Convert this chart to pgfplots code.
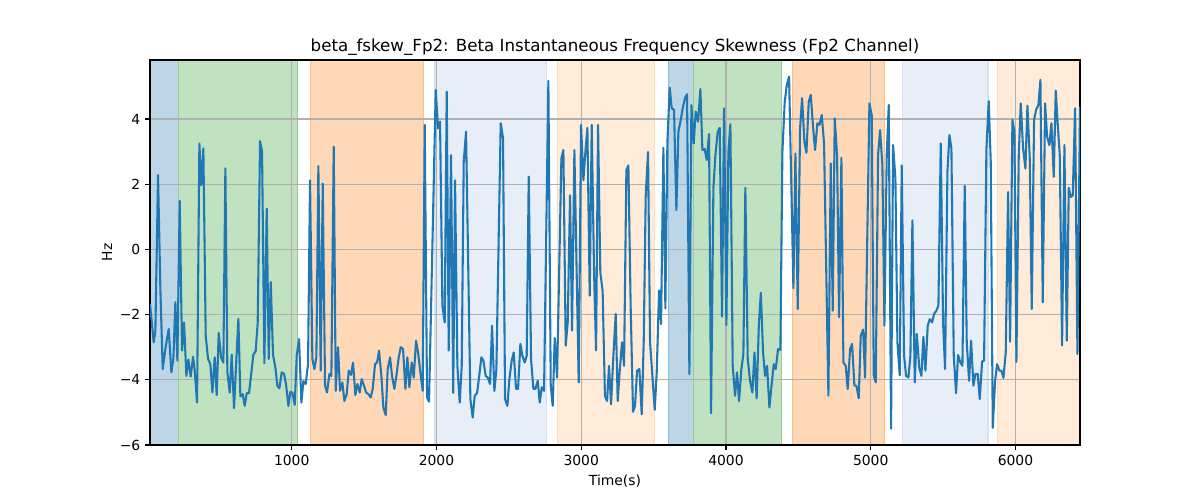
\documentclass[border=0pt]{standalone}
\usepackage{fontspec}
\setmainfont{DejaVu Sans}
\usepackage{pgfplots}
\usepackage{pgfplotstable}
\pgfplotsset{compat=1.18}
\definecolor{tabblue}{HTML}{1F77B4}
\definecolor{tabgreen}{HTML}{2CA02C}
\definecolor{taborange}{HTML}{FF7F0E}
\definecolor{tablblue}{HTML}{AEC7E8}
\definecolor{tablorange}{HTML}{FFBB78}
\definecolor{gridgray}{HTML}{B0B0B0}

\pgfplotstableread{
x y
21 -1.67
46.6 -2.85
58.1 -2.50
76.5 2.28
92.6 -1.21
108.8 -3.67
127.2 -3.05
150.2 -2.44
168.6 -3.77
182.5 -3.36
196.3 -1.62
210.1 -3.41
226.2 1.49
242.3 -3.10
256.2 -2.24
272.3 -3.88
286.1 -3.38
302.2 -3.90
318.3 -3.29
329.9 -3.72
346.0 -4.70
362.1 3.25
375.9 1.97
389.7 3.10
405.9 -2.65
422.0 -3.36
438.1 -3.52
451.9 -4.39
468.0 -3.31
481.8 -4.47
495.7 -2.56
511.8 -3.31
527.9 -3.47
541.7 2.49
555.5 -3.77
571.7 -4.39
585.5 -3.23
601.6 -4.87
615.4 -3.57
631.5 -2.13
645.4 -4.51
661.5 -4.44
675.3 -4.80
689.1 -4.41
705.2 -4.41
721.4 -3.77
735.2 -3.23
751.3 -3.11
765.1 -2.24
781.2 3.32
795.1 3.00
811.2 -3.49
827.3 1.25
841.1 -3.36
855.0 -1.00
871.1 -3.24
887.2 -3.62
901.0 -4.19
914.8 -4.26
931.0 -3.77
947.1 -3.82
960.9 -4.14
977.0 -4.80
990.8 -4.37
1004.7 -4.39
1020.8 -4.77
1034.6 -3.26
1050.7 -2.75
1066.8 -4.70
1080.6 -4.04
1096.7 -4.13
1112.8 -3.52
1126.6 2.12
1142.8 -3.36
1156.6 -3.67
1170.4 -3.31
1184.2 2.56
1200.3 -3.72
1214.2 2.02
1230.3 -4.18
1244.1 -4.39
1260.2 -3.82
1274.0 -3.88
1290.2 3.15
1304.0 -4.34
1320.1 -3.00
1333.9 -4.34
1350.0 -4.08
1363.9 -4.65
1380.0 -4.44
1393.8 -3.72
1409.9 -3.85
1423.7 -3.47
1439.8 -4.47
1453.7 -4.13
1469.8 -4.39
1483.6 -3.98
1499.7 -4.18
1513.5 -4.39
1529.7 -4.44
1545.8 -4.54
1559.6 -4.28
1575.7 -3.52
1589.5 -3.47
1603.4 -3.11
1619.5 -3.88
1633.3 -4.85
1649.4 -5.08
1663.2 -3.67
1679.4 -3.31
1693.2 -3.88
1709.3 -4.28
1723.1 -3.88
1739.2 -3.31
1753.1 -3.00
1769.2 -3.05
1785.3 -4.28
1799.1 -3.31
1813.0 -4.23
1829.1 -3.47
1842.9 -3.93
1859.0 -2.80
1872.8 -3.16
1889.0 -3.77
1905.1 -4.34
1918.9 3.82
1935.0 -4.54
1948.8 -4.67
1965.0 -1.32
1978.8 1.55
1994.9 4.89
2011.0 3.71
2024.8 3.92
2041.0 -1.72
2057.1 -2.24
2070.9 4.84
2084.7 -3.10
2100.8 2.89
2116.0 -4.40
2128.4 2.12
2144.5 -3.57
2160.6 -4.70
2174.5 -3.57
2188.3 2.69
2204.4 3.61
2218.2 -0.17
2234.3 -4.59
2250.5 -5.16
2264.3 -4.49
2280.4 -4.41
2294.2 -3.93
2310.3 -3.31
2324.1 -3.41
2340.3 -3.88
2354.1 -3.93
2370.2 -4.13
2384.0 -2.34
2400.2 -4.34
2414.0 -3.67
2430.1 0.39
2443.9 3.87
2460.0 3.41
2473.8 -4.59
2490.0 -4.80
2503.8 -3.98
2519.9 -3.41
2533.7 -3.16
2549.8 -4.28
2563.7 -4.28
2579.8 -2.90
2593.6 -3.26
2609.7 -3.47
2623.5 -3.26
2637.4 2.23
2653.5 -3.36
2669.6 -4.28
2683.4 -4.28
2699.6 -4.03
2713.4 -4.70
2727.2 -4.23
2743.3 -4.34
2757.1 0.05
2773.2 5.17
2789.4 -4.18
2803.2 -4.80
2817.0 -2.72
2833.1 -3.93
2847.0 -0.83
2863.1 2.79
2876.9 3.05
2893.0 -2.95
2906.8 -2.24
2923.0 1.66
2936.8 -2.49
2952.9 3.05
2969.0 -0.79
2982.8 -4.08
2998.9 3.82
3015.1 2.12
3028.9 3.00
3042.7 3.73
3058.8 -1.42
3072.6 3.82
3088.8 -0.70
3102.6 -3.10
3116.4 3.82
3132.0 -0.70
3148.0 -1.28
3164.0 -4.49
3178.5 -4.65
3192.3 -3.57
3206.1 -4.75
3222.3 -3.26
3238.4 -1.98
3252.2 -4.65
3266.0 -3.72
3282.1 -2.85
3296.0 -3.57
3312.1 2.43
3325.9 2.58
3342.0 -1.83
3358.1 -4.98
3372.0 -4.80
3385.8 -3.72
3401.9 -3.67
3418.0 -5.06
3431.8 -2.85
3445.7 1.66
3461.8 2.99
3475.6 -2.85
3491.7 -3.88
3507.8 -4.92
3521.7 -3.77
3537.8 -1.26
3551.6 -2.29
3567.7 3.12
3581.5 -1.81
3595.4 3.30
3611.5 4.96
3625.3 4.33
3641.4 4.28
3657.5 1.20
3671.4 3.61
3687.5 3.97
3701.3 4.33
3717.4 4.64
3731.2 4.76
3747.4 -3.83
3761.2 4.43
3777.3 3.25
3791.1 4.23
3807.2 3.92
3823.4 4.92
3837.2 3.05
3853.3 3.08
3867.1 2.74
3883.2 3.54
3897.1 -5.03
3913.2 1.87
3927.0 2.89
3943.1 3.61
3956.9 3.73
3973.0 -2.06
3986.9 4.33
4003.0 -2.32
4016.8 2.99
4030.6 3.84
4046.7 -3.57
4062.9 -4.49
4076.7 -3.77
4090.5 -4.65
4106.6 -3.67
4120.4 -3.21
4134.0 1.89
4150.4 -3.36
4166.5 -4.03
4182.6 -4.39
4197.0 -3.16
4212.0 -4.57
4227.0 -2.34
4241.0 -1.33
4256.4 -3.16
4270.2 -3.88
4284.0 -3.57
4300.1 -4.85
4313.9 -4.23
4330.1 -3.52
4343.9 -3.67
4360.0 -3.06
4376.1 -3.08
4389.9 2.99
4406.1 4.53
4419.9 5.03
4436.0 5.30
4452.1 1.87
4465.9 -1.19
4479.8 2.94
4495.9 -1.83
4512.0 3.71
4525.8 4.64
4542.0 3.30
4555.8 2.96
4571.9 4.53
4585.7 4.74
4601.8 3.76
4615.6 3.05
4631.8 3.87
4645.6 3.82
4661.7 4.12
4677.8 3.25
4691.6 -0.32
4707.8 -4.49
4723.9 2.64
4737.7 -1.88
4751.5 4.02
4767.6 2.89
4781.5 -2.08
4797.6 2.81
4811.4 -3.47
4827.5 -3.57
4841.3 -4.28
4857.5 -3.06
4871.3 -2.90
4887.4 -4.18
4901.2 -4.18
4917.3 -4.57
4931.1 -2.65
4947.3 -2.46
4961.1 -3.93
4977.2 0.60
4991.0 4.48
5007.1 4.12
5021.0 -3.86
5034.8 -4.08
5050.9 2.89
5064.7 3.66
5080.8 2.58
5094.7 -2.34
5110.8 2.89
5124.6 4.43
5140.7 -5.50
5154.5 3.20
5170.7 2.17
5184.5 -2.85
5200.6 -3.86
5214.4 2.58
5230.6 -3.26
5244.4 -3.88
5260.5 -3.93
5274.3 -3.26
5288.1 0.89
5304.3 -4.08
5318.1 -2.59
5336.0 -3.65
5350.3 -3.88
5364.1 -2.68
5377.9 -3.72
5394.1 -2.34
5407.9 -2.14
5424.0 -2.24
5437.8 -1.98
5454.0 -1.88
5467.8 -1.72
5483.9 3.25
5500.0 -2.24
5513.8 -3.67
5530.0 2.38
5543.8 3.51
5557.6 3.10
5573.7 -3.26
5589.8 -4.41
5603.6 -3.24
5619.8 -3.47
5633.6 -3.57
5649.7 1.95
5663.5 -2.85
5679.7 -4.03
5693.5 -2.80
5709.6 -4.18
5723.4 -3.82
5739.5 -3.82
5753.3 -4.59
5769.5 -3.44
5783.3 -3.41
5799.4 3.10
5815.5 4.55
5829.3 2.69
5843.2 -5.47
5859.3 -4.03
5873.1 -3.52
5889.2 -3.72
5903.0 -3.72
5916.9 -3.94
5933.0 -3.16
5949.1 1.76
5962.9 -2.83
5979.0 3.97
5992.9 3.61
6006.7 -3.45
6022.8 2.89
6036.6 4.48
6052.7 3.10
6068.9 2.48
6082.7 4.41
6098.8 2.79
6112.6 -1.83
6128.7 3.97
6142.6 4.28
6158.7 4.43
6172.5 5.20
6188.6 -1.62
6204.8 4.48
6218.6 3.46
6234.7 3.20
6248.5 3.87
6264.6 2.23
6278.4 4.87
6292.3 3.82
6306.1 2.90
6322.2 -2.95
6338.3 3.20
6354.5 -2.80
6368.3 1.89
6382.1 1.61
6395.9 1.66
6412.0 4.33
6428.2 -3.21
6446.0 4.38
}\signal

\begin{document}
\begin{tikzpicture}
\begin{axis}[
  set layers,
  clip mode=individual,
  at={(108pt,39.6pt)}, anchor=south west,
  width=669.6pt, height=277.2pt, scale only axis,
  xmin=21, xmax=6446, ymin=-6, ymax=5.81,
  xtick={1000,2000,3000,4000,5000,6000},
  xticklabels={1000,2000,3000,4000,5000,6000},
  ytick={-6,-4,-2,0,2,4},
  yticklabels={−6,−4,−2,0,2,4},
  grid=major,
  grid style={color=gridgray, line width=0.8pt},
  axis line style={line width=0.8pt},
  tick align=outside,
  major tick length=3.5pt,
  tick style={line width=0.8pt, color=black},
  xtick pos=bottom, ytick pos=left,
  ticklabel style={font=\fontsize{10}{12}\selectfont},
  every axis title/.style={at={(axis description cs:0.5,1)}, anchor=base, yshift=6pt, font=\fontsize{12}{14}\selectfont},
  title={beta\_fskew\_Fp2: Beta Instantaneous Frequency Skewness (Fp2 Channel)},
  every axis x label/.style={at={(axis description cs:0.5,0)}, anchor=base, yshift=-29.5pt, font=\fontsize{10}{12}\selectfont},
  every axis y label/.style={at={(axis description cs:-0.0463,0.5)}, rotate=90, anchor=center, font=\fontsize{10}{12}\selectfont},
  xlabel={Time(s)}, ylabel={Hz},
]
\addplot[on layer=axis background, fill=tabblue!30!white, draw=tabblue!51!white, line width=1pt, forget plot] coordinates {(21,-7) (21,7) (217,7) (217,-7)};
\addplot[on layer=axis background, fill=tabgreen!30!white, draw=tabgreen!51!white, line width=1pt, forget plot] coordinates {(217,-7) (217,7) (1038,7) (1038,-7)};
\addplot[on layer=axis background, fill=taborange!30!white, draw=taborange!51!white, line width=1pt, forget plot] coordinates {(1131,-7) (1131,7) (1912,7) (1912,-7)};
\addplot[on layer=axis background, fill=tablblue!30!white, draw=tablblue!51!white, line width=1pt, forget plot] coordinates {(1990,-7) (1990,7) (2762,7) (2762,-7)};
\addplot[on layer=axis background, fill=tablorange!30!white, draw=tablorange!51!white, line width=1pt, forget plot] coordinates {(2838,-7) (2838,7) (3508,7) (3508,-7)};
\addplot[on layer=axis background, fill=tabblue!30!white, draw=tabblue!51!white, line width=1pt, forget plot] coordinates {(3604,-7) (3604,7) (3777,7) (3777,-7)};
\addplot[on layer=axis background, fill=tabgreen!30!white, draw=tabgreen!51!white, line width=1pt, forget plot] coordinates {(3777,-7) (3777,7) (4383,7) (4383,-7)};
\addplot[on layer=axis background, fill=taborange!30!white, draw=taborange!51!white, line width=1pt, forget plot] coordinates {(4461,-7) (4461,7) (5095,7) (5095,-7)};
\addplot[on layer=axis background, fill=tablblue!30!white, draw=tablblue!51!white, line width=1pt, forget plot] coordinates {(5220,-7) (5220,7) (5811,7) (5811,-7)};
\addplot[on layer=axis background, fill=tablorange!30!white, draw=tablorange!51!white, line width=1pt, forget plot] coordinates {(5878,-7) (5878,7) (6460,7) (6460,-7)};
\addplot[color=tabblue, line width=1.5pt, line join=round, mark=none] table[x=x, y=y] {\signal};
\end{axis}
\path (0,0) rectangle (864pt,360pt);
\end{tikzpicture}
\end{document}
